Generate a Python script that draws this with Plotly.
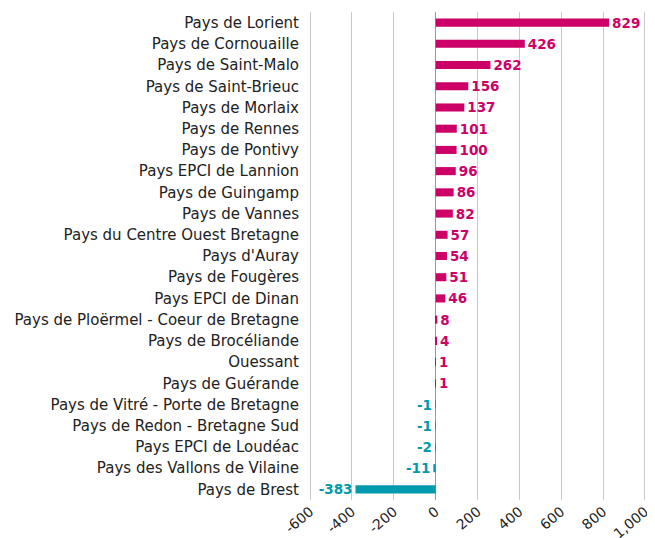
import plotly.graph_objects as go

categories = ["Pays de Lorient", "Pays de Cornouaille", "Pays de Saint-Malo", "Pays de Saint-Brieuc",
              "Pays de Morlaix", "Pays de Rennes", "Pays de Pontivy", "Pays EPCI de Lannion",
              "Pays de Guingamp", "Pays de Vannes", "Pays du Centre Ouest Bretagne", "Pays d'Auray",
              "Pays de Fougères", "Pays EPCI de Dinan", "Pays de Ploërmel - Coeur de Bretagne",
              "Pays de Brocéliande", "Ouessant", "Pays de Guérande", "Pays de Vitré - Porte de Bretagne",
              "Pays de Redon - Bretagne Sud", "Pays EPCI de Loudéac", "Pays des Vallons de Vilaine",
              "Pays de Brest"]
values = [829, 426, 262, 156, 137, 101, 100, 96, 86, 82, 57, 54, 51, 46, 8, 4, 1, 1, -1, -1, -2, -11, -383]
tick_vals = [-600, -400, -200, 0, 200, 400, 600, 800, 1000]
tick_text = ["-600", "-400", "-200", "0", "200", "400", "600", "800", "1,000"]

PINK = "#CC0066"
TEAL = "#0099AD"
colors = [PINK if v >= 0 else TEAL for v in values]

FONT = "DejaVu Sans, sans-serif"

fig = go.Figure(go.Bar(
    x=values, y=categories, orientation="h",
    marker=dict(color=colors, line=dict(width=0)),
    width=0.38,
    text=[str(v) for v in values], textposition="outside",
    constraintext="none",
    textfont=dict(color=colors, size=13.5, family=FONT, weight="bold"),
    cliponaxis=False,
))
fig.update_layout(
    width=647, height=530,
    margin=dict(l=300, r=8, t=4, b=38),
    plot_bgcolor="white", paper_bgcolor="white",
    showlegend=False,
    font=dict(family=FONT, size=15, color="#222"),
    xaxis=dict(range=[-610, 1010], tickvals=tick_vals, ticktext=tick_text, tickangle=-40,
               showgrid=True, gridcolor="#C8C8C8", gridwidth=1,
               zeroline=True, zerolinecolor="#999999", zerolinewidth=1,
               automargin=False, tickfont=dict(size=14, color="#222"), ticks=""),
    yaxis=dict(autorange="reversed", automargin=False, ticklabelstandoff=8,
               tickfont=dict(size=15, color="#222"), showgrid=False, ticks=""),
)
fig.write_html("out.html")
